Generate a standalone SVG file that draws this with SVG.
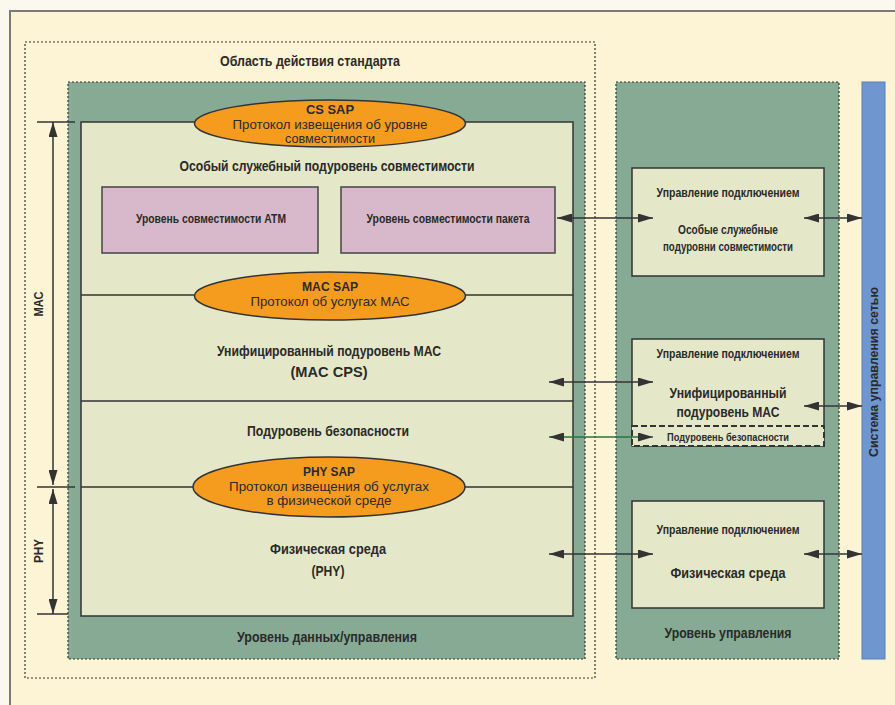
<svg xmlns="http://www.w3.org/2000/svg" width="895" height="705" viewBox="0 0 895 705">
<style>
text{font-family:"Liberation Sans","DejaVu Sans",sans-serif;fill:#2a2a2a;text-anchor:middle}
.b{font-weight:bold}
.t14{font-size:14px}
.t13{font-size:13px}
.t12{font-size:12px}
.t11{font-size:11px}
.dot{fill:none;stroke:#333;stroke-width:1.2;stroke-dasharray:2,2}
.green{fill:#86aa94}
.light{fill:#e4e8c9;stroke:#333;stroke-width:1.5}
.pink{fill:#d8b9cb;stroke:#444;stroke-width:1.5}
.sap{fill:#f59c1f;stroke:#333;stroke-width:1.5}
.ln{stroke:#333;stroke-width:1.5;fill:none}
.arr{stroke:#333;stroke-width:1.5;fill:none;marker-start:url(#ah);marker-end:url(#ah)}
</style>
<defs>
<marker id="ah" markerUnits="userSpaceOnUse" markerWidth="15" markerHeight="9" refX="15" refY="4.5" orient="auto-start-reverse">
<path d="M0,0 L15,4.5 L0,9 Z" fill="#333"/>
</marker>
</defs>
<rect x="0" y="0" width="895" height="705" fill="#fbf9ee"/>
<rect x="10" y="11" width="900" height="710" fill="#fdf3d5" stroke="#7a7a7a" stroke-width="2"/>

<g id="scope">
<rect x="25" y="42" width="570" height="636" class="dot"/>
<text x="310" y="66" class="b t14" textLength="180" lengthAdjust="spacingAndGlyphs">Область действия стандарта</text>
</g>

<g id="data-plane">
<rect x="68" y="82" width="517" height="577" class="green"/>
<rect x="68" y="82" width="517" height="577" class="dot"/>
<rect x="81" y="122" width="492" height="494" class="light"/>
<text x="327" y="642" class="b t14" textLength="180" lengthAdjust="spacingAndGlyphs">Уровень данных/управления</text>
</g>

<g id="cs-sublayer">
<text x="327" y="171" class="b t14" textLength="295" lengthAdjust="spacingAndGlyphs">Особый служебный подуровень совместимости</text>
</g>

<g id="cs-sap">
<ellipse cx="330" cy="123.5" rx="135.5" ry="23.5" class="sap"/>
<text x="330" y="114" class="b t13" textLength="48" lengthAdjust="spacingAndGlyphs">CS SAP</text>
<text x="330" y="129" class="t12" textLength="195" lengthAdjust="spacingAndGlyphs">Протокол извещения об уровне</text>
<text x="330" y="142.5" class="t12" textLength="90" lengthAdjust="spacingAndGlyphs">совместимости</text>
</g>

<g id="atm">
<rect x="102" y="187" width="216" height="66" class="pink"/>
<text x="211" y="223" class="b t12" textLength="150" lengthAdjust="spacingAndGlyphs">Уровень совместимости АТМ</text>
</g>

<g id="packet">
<rect x="341" y="187" width="214" height="66" class="pink"/>
<text x="448" y="223" class="b t12" textLength="163" lengthAdjust="spacingAndGlyphs">Уровень совместимости пакета</text>
</g>

<g id="mac-sap">
<line x1="81" y1="295" x2="573" y2="295" class="ln"/>
<ellipse cx="330" cy="296" rx="135.5" ry="24" class="sap"/>
<text x="330" y="291" class="b t13" textLength="56" lengthAdjust="spacingAndGlyphs">MAC SAP</text>
<text x="330" y="306" class="t13" textLength="159" lengthAdjust="spacingAndGlyphs">Протокол об услугах МАС</text>
</g>

<g id="mac-cps">
<text x="329" y="356" class="b t14" textLength="224" lengthAdjust="spacingAndGlyphs">Унифицированный подуровень МАС</text>
<text x="329" y="377" class="b t14" textLength="77" lengthAdjust="spacingAndGlyphs">(MAC CPS)</text>
<line x1="81" y1="401" x2="573" y2="401" class="ln"/>
</g>

<g id="security">
<text x="328" y="436" class="b t14" textLength="162" lengthAdjust="spacingAndGlyphs">Подуровень безопасности</text>
</g>

<g id="phy-sap">
<line x1="81" y1="487" x2="573" y2="487" class="ln"/>
<ellipse cx="329" cy="487" rx="136" ry="30" class="sap"/>
<text x="329" y="476" class="b t13" textLength="52" lengthAdjust="spacingAndGlyphs">PHY SAP</text>
<text x="329" y="491" class="t12" textLength="200" lengthAdjust="spacingAndGlyphs">Протокол извещения об услугах</text>
<text x="329" y="504.5" class="t12" textLength="125" lengthAdjust="spacingAndGlyphs">в физической среде</text>
</g>

<g id="phy">
<text x="328" y="554" class="b t14" textLength="116" lengthAdjust="spacingAndGlyphs">Физическая среда</text>
<text x="328" y="576" class="b t14" textLength="33" lengthAdjust="spacingAndGlyphs">(PHY)</text>
</g>

<g id="brackets">
<line x1="37" y1="122" x2="75" y2="122" class="ln"/>
<line x1="37" y1="487" x2="75" y2="487" class="ln"/>
<line x1="37" y1="614" x2="68" y2="614" class="ln"/>
<line x1="53" y1="122" x2="53" y2="485" class="arr"/>
<line x1="53" y1="489" x2="53" y2="614" class="arr"/>
<text transform="translate(43,304) rotate(-90)" class="b t13" textLength="25" lengthAdjust="spacingAndGlyphs">MAC</text>
<text transform="translate(43,551) rotate(-90)" class="b t13" textLength="24" lengthAdjust="spacingAndGlyphs">PHY</text>
</g>

<g id="control-plane">
<rect x="616" y="82" width="223" height="577" class="green"/>
<rect x="616" y="82" width="223" height="577" class="dot"/>
<text x="728" y="638" class="b t14" textLength="127" lengthAdjust="spacingAndGlyphs">Уровень управления</text>
</g>

<g id="ctrl-cs">
<rect x="632" y="168" width="192" height="108" class="light"/>
<text x="728" y="197" class="b t12" textLength="143" lengthAdjust="spacingAndGlyphs">Управление подключением</text>
<text x="728" y="234" class="b t12" textLength="100" lengthAdjust="spacingAndGlyphs">Особые служебные</text>
<text x="728" y="251" class="b t12" textLength="130" lengthAdjust="spacingAndGlyphs">подуровни совместимости</text>
</g>

<g id="ctrl-mac">
<rect x="632" y="339" width="192" height="107" class="light"/>
<text x="728" y="358" class="b t12" textLength="143" lengthAdjust="spacingAndGlyphs">Управление подключением</text>
<text x="728" y="398" class="b t14" textLength="117" lengthAdjust="spacingAndGlyphs">Унифицированный</text>
<text x="728" y="417" class="b t14" textLength="103" lengthAdjust="spacingAndGlyphs">подуровень МАС</text>
<rect x="632" y="426" width="192" height="20" fill="#e4e8c9" stroke="#333" stroke-width="2" stroke-dasharray="6,3"/>
<text x="728" y="441" class="b t11" textLength="122" lengthAdjust="spacingAndGlyphs">Подуровень безопасности</text>
</g>

<g id="ctrl-phy">
<rect x="632" y="501" width="192" height="107" class="light"/>
<text x="728" y="534" class="b t12" textLength="143" lengthAdjust="spacingAndGlyphs">Управление подключением</text>
<text x="728" y="578" class="b t14" textLength="115" lengthAdjust="spacingAndGlyphs">Физическая среда</text>
</g>

<g id="nms">
<rect x="862" y="82" width="23" height="577" fill="#6e96cf" stroke="#5a80b8" stroke-width="1"/>
<text transform="translate(878,372) rotate(-90)" class="b t13" textLength="170" lengthAdjust="spacingAndGlyphs">Система управления сетью</text>
</g>

<g id="connectors">
<line x1="557" y1="218" x2="653" y2="218" class="arr"/>
<line x1="804" y1="218" x2="862" y2="218" class="arr"/>
<line x1="549" y1="382" x2="653" y2="382" class="arr"/>
<line x1="804" y1="406" x2="862" y2="406" class="arr"/>
<line x1="549" y1="437" x2="653" y2="437" class="arr" style="stroke:#1f7a3a"/>
<line x1="549" y1="554" x2="653" y2="554" class="arr"/>
<line x1="804" y1="554" x2="862" y2="554" class="arr"/>
</g>
</svg>
